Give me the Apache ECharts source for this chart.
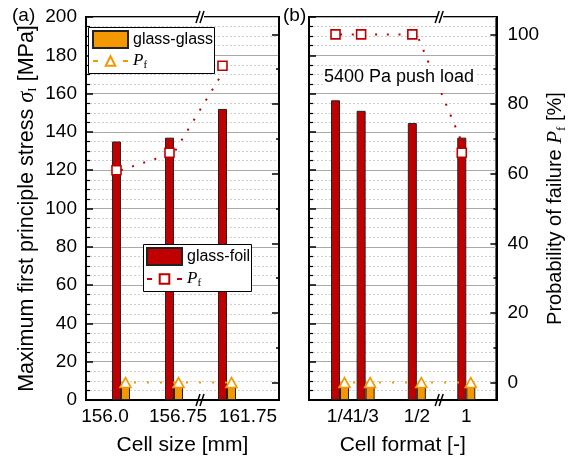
<!DOCTYPE html>
<html><head><meta charset="utf-8">
<script src="https://cdn.jsdelivr.net/npm/echarts@6/dist/echarts.min.js"></script>
<style>html,body{margin:0;padding:0;background:#fff}#c{width:569px;height:461px}</style>
</head><body><div id="c"></div>
<script>
// ---- data ----
const sizeVals = [156.0, 156.75, 161.75];
const sizeLabels = ['156.0', '156.75', '161.75'];
const sizeStressFoil = [135, 137, 152];
const sizeStressGlass = [7.6, 7.6, 7.6];
const sizePfFoil = [61, 66, 91];
const sizePfGlass = [0, 0, 0];

const fmtVals = [1/4, 1/3, 1/2, 1];
const fmtLabels = ['1/4', '1/3', '1/2', '1'];
const fmtStressFoil = [156.5, 151, 144.6, 137];
const fmtStressGlass = [7.6, 7.6, 7.6, 7.6];
const fmtPfFoil = [100, 100, 100, 66];
const fmtPfGlass = [0, 0, 0, 0];

const pfMajorTicks = [0, 20, 40, 60, 80, 100];
const pfMinorTicks = [10, 30, 50, 70, 90];

// ---- styles ----
const FONT = 'Liberation Sans, Arial, sans-serif';
const SERIF = 'Liberation Serif, Times New Roman, serif';
const RED = '#C00000', ORANGE = '#F39800';
const sizeBreak = {start: 157.118, end: 161.368};
const fmtBreak = {start: 0.576, end: 0.915};

function titleRich(fs) {
  return {
    t: {fontSize: fs, fontFamily: FONT, color: '#000', lineHeight: 24},
    g: {fontSize: fs + 1, fontFamily: SERIF, fontStyle: 'italic', color: '#000', lineHeight: 24},
    s: {fontSize: 13, fontFamily: SERIF, color: '#000', lineHeight: 14, padding: [12, 0, 0, 0]}
  };
}
const legendRich = {
  i: {fontSize: 17, fontFamily: SERIF, fontStyle: 'italic', color: '#000', lineHeight: 20},
  s: {fontSize: 11, fontFamily: SERIF, color: '#000', lineHeight: 12, padding: [9, 0, 0, 0]}
};
const labelShift = {
  a0: {padding: [0, 32, 0, 0], fontSize: 19, fontFamily: FONT, color: '#000'},
  a1: {padding: [0, 0, 0, 8], fontSize: 19, fontFamily: FONT, color: '#000'},
  a2: {padding: [0, 0, 0, 42], fontSize: 19, fontFamily: FONT, color: '#000'}
};

function nearestIdx(arr, v) {
  let b = 0;
  arr.forEach((x, i) => { if (Math.abs(x - v) < Math.abs(arr[b] - v)) b = i; });
  return b;
}
const pairs = (xs, ys) => xs.map((x, i) => [x, ys[i]]);

function stressAxis(gridIndex, showLabel, name) {
  return {
    type: 'value', gridIndex, position: 'left', min: 0, max: 200, interval: 20,
    axisLine: {show: true, lineStyle: {color: '#000', width: 2}},
    axisTick: {show: true, inside: true, length: 7, lineStyle: {color: '#000', width: 1.5}},
    minorTick: {show: true, splitNumber: 4, length: 4, lineStyle: {color: '#000', width: 1.2}},
    axisLabel: {show: showLabel, fontSize: 19, fontFamily: FONT, color: '#000', margin: 9},
    splitLine: {show: true, lineStyle: {color: '#aaaaaa', width: 1}},
    minorSplitLine: {show: true, lineStyle: {color: '#cfcfcf', width: 1, type: [2, 2]}},
    name: name || '', nameLocation: 'middle', nameRotate: 90, nameGap: 47,
    nameTextStyle: {rich: titleRich(21.5)}
  };
}
function pfAxis(gridIndex, ticks, len, showLabel, name) {
  return {
    type: 'value', gridIndex, position: 'right', min: -5, max: 105,
    axisLine: {show: true, lineStyle: {color: '#000', width: 2}},
    axisTick: {show: true, inside: true, length: len, customValues: ticks, lineStyle: {color: '#000', width: 1.5}},
    axisLabel: {show: showLabel, customValues: ticks, fontSize: 19, fontFamily: FONT, color: '#000', margin: 11},
    splitLine: {show: false},
    name: name || '', nameLocation: 'middle', nameRotate: 90, nameGap: 38,
    nameTextStyle: {rich: titleRich(20)}
  };
}
// format axis; labels split over two overlapping axes (alternating) so that touching labels are all drawn
function fmtAxis(parity, withLine) {
  const vals = fmtVals.filter((v, i) => i % 2 === parity);
  return {
    type: 'value', gridIndex: 1, position: 'bottom', offset: 0, min: 0.149, max: 1.098,
    breaks: [{start: fmtBreak.start, end: fmtBreak.end, gap: 0}],
    breakArea: {show: false},
    axisLine: {show: withLine, onZero: false, lineStyle: {color: '#000', width: 2}},
    axisTick: {show: false}, splitLine: {show: false},
    axisLabel: {
      customValues: vals, margin: 7, fontSize: 19, fontFamily: FONT, color: '#000',
      hideOverlap: false,
      formatter: v => fmtLabels[nearestIdx(fmtVals, v)]
    },
    name: withLine ? 'Cell format [-]' : '', nameLocation: 'middle', nameGap: 35,
    nameTextStyle: {fontSize: 21, fontFamily: FONT, color: '#000'}
  };
}

function barSeries(name, xi, yi, data, color) {
  return {
    name, type: 'bar', xAxisIndex: xi, yAxisIndex: yi, data, barWidth: 9, barGap: '0%',
    itemStyle: {color, borderColor: '#222', borderWidth: 1}, z: 2
  };
}
function pfSeries(name, xi, yi, data, color, symbol, size, offset, dash) {
  return {
    name, type: 'line', xAxisIndex: xi, yAxisIndex: yi, data, symbol, symbolSize: size,
    symbolOffset: [offset, 0], showSymbol: true,
    itemStyle: {color: '#fff', borderColor: color, borderWidth: 1.6},
    lineStyle: {color, width: 2, type: dash},
    z: 3
  };
}
function legendRow(name, left, top, h, icon) {
  return {
    orient: 'vertical', left, top, selectedMode: false, z: 6,
    data: [icon ? {name, icon} : {name}],
    itemWidth: 35, itemHeight: h, padding: 0,
    lineStyle: {type: [5, 10], width: 2},
    textStyle: {fontSize: 16, fontFamily: FONT, color: '#000', rich: legendRich},
    formatter: n => n.startsWith('Pf') ? '{i|P}{s|f}' : n
  };
}

const chart = echarts.init(document.getElementById('c'), null, {renderer: 'canvas'});
const option = {
  animation: false,
  backgroundColor: '#fff',
  textStyle: {fontFamily: FONT},
  grid: [
    {left: 86, right: 290, top: 17, bottom: 58, show: true, borderColor: '#000', borderWidth: 2, backgroundColor: 'transparent'},
    {left: 309, right: 66, top: 17, bottom: 58, show: true, borderColor: '#000', borderWidth: 2, backgroundColor: 'transparent'}
  ],
  xAxis: [
    {
      type: 'value', gridIndex: 0, position: 'bottom', min: 155.505, max: 162.486,
      breaks: [{start: sizeBreak.start, end: sizeBreak.end, gap: 0}],
      breakArea: {show: false},
      axisLine: {onZero: false, lineStyle: {color: '#000', width: 2}}, axisTick: {show: false}, splitLine: {show: false},
      axisLabel: {
        customValues: sizeVals, margin: 7, hideOverlap: false,
        formatter: v => { const i = nearestIdx(sizeVals, v); return '{a' + i + '|' + sizeLabels[i] + '}'; },
        rich: labelShift
      },
      name: 'Cell size [mm]', nameLocation: 'middle', nameGap: 35,
      nameTextStyle: {fontSize: 21, fontFamily: FONT, color: '#000'}
    },
    fmtAxis(0, true),
    fmtAxis(1, false)
  ],
  yAxis: [
    stressAxis(0, true, '{t|Maximum first principle stress }{g|σ}{s|I}{t| [MPa]}'),
    pfAxis(0, pfMajorTicks, 7, false),
    pfAxis(0, pfMinorTicks, 3, false),
    stressAxis(1, false),
    pfAxis(1, pfMajorTicks, 6, true, '{t|Probability of failure }{g|P}{s|f}{t| [%]}'),
    pfAxis(1, pfMinorTicks, 3, false)
  ],
  legend: [
    legendRow('glass-glass', 92, 30, 17, 'rect'),
    legendRow('Pf glass-glass', 92, 51, 12),
    legendRow('glass-foil', 146, 247, 17, 'rect'),
    legendRow('Pf glass-foil', 146, 269, 12)
  ],
  series: [
    barSeries('glass-foil', 0, 0, pairs(sizeVals, sizeStressFoil), RED),
    barSeries('glass-glass', 0, 0, pairs(sizeVals, sizeStressGlass), ORANGE),
    pfSeries('Pf glass-foil', 0, 1, pairs(sizeVals, sizePfFoil), RED, 'rect', 9, -4.5, [2, 9.7]),
    pfSeries('Pf glass-glass', 0, 1, pairs(sizeVals, sizePfGlass), ORANGE, 'triangle', [11, 10], 4.5, [2, 11]),
    barSeries('glass-foil', 1, 3, pairs(fmtVals, fmtStressFoil), RED),
    barSeries('glass-glass', 1, 3, pairs(fmtVals, fmtStressGlass), ORANGE),
    pfSeries('Pf glass-foil', 1, 4, pairs(fmtVals, fmtPfFoil), RED, 'rect', 9, -4.5, [2, 9.7]),
    pfSeries('Pf glass-glass', 1, 4, pairs(fmtVals, fmtPfGlass), ORANGE, 'triangle', [11, 10], 4.5, [2, 11])
  ]
};
chart.setOption(option);

function breakMark(x, y) {
  return {
    type: 'group', z: 100, children: [
      {type: 'rect', shape: {x: x - 3, y: y - 3, width: 6, height: 6}, style: {fill: '#fff'}},
      {type: 'line', shape: {x1: x - 5, y1: y + 6, x2: x - 1, y2: y - 6}, style: {stroke: '#000', lineWidth: 1.5}},
      {type: 'line', shape: {x1: x - 1, y1: y + 6, x2: x + 3, y2: y - 6}, style: {stroke: '#000', lineWidth: 1.5}}
    ]
  };
}
function legendBox(x, y, w, h) {
  return {type: 'rect', z: 5, shape: {x: x + 0.5, y: y + 0.5, width: w, height: h},
    style: {fill: '#fff', stroke: '#000', lineWidth: 1}};
}
const gA = chart.getModel().getComponent('grid', 0).coordinateSystem.getRect();
const xa = chart.convertToPixel({xAxisIndex: 0}, sizeBreak.start);
const xb = chart.convertToPixel({xAxisIndex: 1}, fmtBreak.start);
chart.setOption({
  graphic: [
    legendBox(88, 27, 126, 46),
    legendBox(143, 244, 108, 47),
    {type: 'text', left: 12, top: 6, style: {text: '(a)', fontSize: 19, fontFamily: FONT, fill: '#000'}, z: 100},
    {type: 'text', left: 283, top: 6, style: {text: '(b)', fontSize: 19, fontFamily: FONT, fill: '#000'}, z: 100},
    {type: 'text', x: 399, y: 77, z: 100, style: {text: '5400 Pa push load', fontSize: 18, fontFamily: FONT, fill: '#000',
      align: 'center', verticalAlign: 'middle', backgroundColor: '#fff', padding: [1, 1]}},
    breakMark(xa + 1, gA.y),
    breakMark(xa + 1, gA.y + gA.height),
    breakMark(xb, gA.y),
    breakMark(xb, gA.y + gA.height)
  ]
});
</script>
</body></html>
